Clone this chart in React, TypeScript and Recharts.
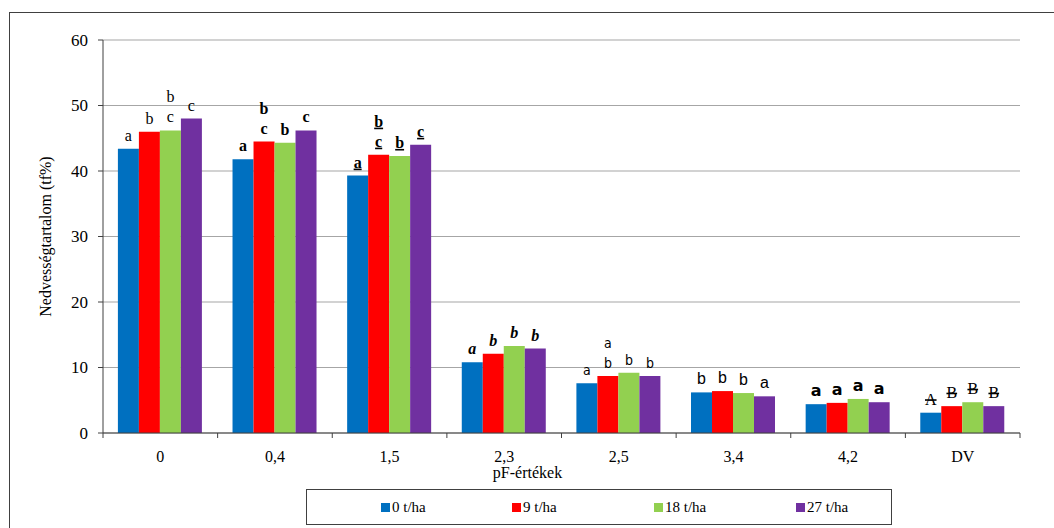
import React from "react";
import { BarChart, Bar, XAxis, YAxis, CartesianGrid, Legend, LabelList } from "recharts";

const categories = ["0", "0,4", "1,5", "2,3", "2,5", "3,4", "4,2", "DV"];
const series = ["0 t/ha", "9 t/ha", "18 t/ha", "27 t/ha"];
const t0 = [43.4, 41.8, 39.3, 10.8, 7.6, 6.2, 4.4, 3.1];
const t9 = [46.0, 44.5, 42.5, 12.1, 8.7, 6.4, 4.6, 4.1];
const t18 = [46.2, 44.3, 42.3, 13.3, 9.2, 6.1, 5.2, 4.7];
const t27 = [48.0, 46.2, 44.0, 12.9, 8.7, 5.6, 4.7, 4.1];

// letters above bars (lower line / upper line)
const lab0 = ["a", "a", "a", "a", "a", "b", "a", "A"];
const lab9 = ["b", "c", "c", "b", "b", "b", "a", "B"];
const lab18 = ["c", "b", "b", "b", "b", "b", "a", "B"];
const lab27 = ["c", "c", "c", "b", "b", "a", "a", "B"];
const up9 = ["", "b", "b", "", "a", "", "", ""];
const up18 = ["b", "", "", "", "", "", "", ""];

const yTicks = [0, 10, 20, 30, 40, 50, 60];
const COLORS = ["#0070C0", "#FF0000", "#92D050", "#7030A0"];

const SERIF = "Liberation Serif, Times New Roman, serif";
const SANS = "Liberation Sans, Arial, sans-serif";
const labelFonts: React.SVGProps<SVGTextElement>[] = [
  { fontFamily: SERIF },
  { fontFamily: SERIF, fontWeight: "bold" },
  { fontFamily: SERIF, fontWeight: "bold", textDecoration: "underline" },
  { fontFamily: SERIF, fontWeight: "bold", fontStyle: "italic" },
  { fontFamily: "Liberation Sans Narrow, DejaVu Sans Condensed, sans-serif", fontSize: 14 },
  { fontFamily: SANS },
  { fontFamily: "DejaVu Sans, sans-serif", fontWeight: "bold" },
  { fontFamily: SERIF, textDecoration: "line-through" },
];
const legendCols = [131, 142, 142, 90];

const data = categories.map((c, i) => ({ cat: c, s0: t0[i], s9: t9[i], s18: t18[i], s27: t27[i] }));

const makeLabel = (lower: string[], upper?: string[]) => (p: any) => {
  const i = p.index;
  const cx = p.x + p.width / 2;
  const st = { fontSize: 16, fill: "#000", textAnchor: "middle" as const, ...labelFonts[i] };
  return (
    <g>
      <text x={cx} y={p.y - 8} {...st}>{lower[i]}</text>
      {upper && upper[i] ? <text x={cx} y={p.y - 28} {...st}>{upper[i]}</text> : null}
    </g>
  );
};

const CatTick = (p: any) => {
  const off = p.payload?.offset ?? 57.3;
  return (
    <g>
      {p.index === 0 ? <line x1={p.x - off} x2={p.x - off} y1={p.y - 8} y2={p.y - 3} stroke="#404040" /> : null}
      <line x1={p.x + off} x2={p.x + off} y1={p.y - 8} y2={p.y - 3} stroke="#404040" />
      <text x={p.x} y={p.y + 21} textAnchor="middle" fontFamily={SERIF} fontSize={16} fill="#000">
        {p.payload.value}
      </text>
    </g>
  );
};

const ValTick = (p: any) => (
  <text x={p.x} y={p.y} textAnchor="end" dominantBaseline="central" fontFamily={SERIF} fontSize={17} fill="#000">
    {p.payload.value}
  </text>
);

const LegendBox = () => (
  <div style={{ width: 586, height: 36, border: "1.5px solid #404040", boxSizing: "border-box", display: "flex", alignItems: "center", paddingLeft: 74, fontFamily: SERIF, fontSize: 15, color: "#000", background: "#fff" }}>
    {series.map((s, i) => (
      <div key={s} style={{ display: "flex", alignItems: "center", width: legendCols[i], flex: "none" }}>
        <span style={{ width: 9, height: 9, background: COLORS[i], marginRight: 2, display: "inline-block" }} />
        <span>{s}</span>
      </div>
    ))}
  </div>
);

export default function App() {
  return (
    <div style={{ position: "absolute", left: 0, top: 0, width: 1054, height: 528, overflow: "hidden", background: "#fff" }}>
      <div style={{ position: "absolute", left: 9, top: 12, width: 1200, height: 700, border: "1.5px solid #404040" }} />
      <BarChart width={1054} height={528} data={data} margin={{ top: 40, right: 34, left: 33, bottom: 29 }} barCategoryGap="13%" barGap={0}>
        <CartesianGrid vertical={false} stroke="#A6A6A6" strokeWidth={1.2} />
        <XAxis dataKey="cat" height={30} tickLine={false} axisLine={{ stroke: "#404040" }} tick={<CatTick />} interval={0}
          label={{ content: (p: any) => (
            <text x={p.viewBox.x + p.viewBox.width / 2 - 34} y={p.viewBox.y + 45} textAnchor="middle" fontFamily={SERIF} fontSize={16} fill="#000">pF-értékek</text>
          ) }} />
        <YAxis width={70} domain={[0, 60]} ticks={yTicks} tickSize={5} tickMargin={10} axisLine={{ stroke: "#404040" }} tickLine={{ stroke: "#404040" }}
          tick={<ValTick />}
          label={{ content: (p: any) => {
            const x = p.viewBox.x + 12;
            const y = p.viewBox.y + p.viewBox.height / 2;
            return <text x={x} y={y} transform={`rotate(-90 ${x} ${y})`} textAnchor="middle" dominantBaseline="central" fontFamily={SERIF} fontSize={16} fill="#000">Nedvességtartalom (tf%)</text>;
          } }} />
        <Legend content={<LegendBox />} wrapperStyle={{ position: "absolute", left: 306, top: 489, width: 586 }} />
        <Bar dataKey="s0" name={series[0]} fill={COLORS[0]} isAnimationActive={false}>
          <LabelList dataKey="s0" content={makeLabel(lab0)} />
        </Bar>
        <Bar dataKey="s9" name={series[1]} fill={COLORS[1]} isAnimationActive={false}>
          <LabelList dataKey="s9" content={makeLabel(lab9, up9)} />
        </Bar>
        <Bar dataKey="s18" name={series[2]} fill={COLORS[2]} isAnimationActive={false}>
          <LabelList dataKey="s18" content={makeLabel(lab18, up18)} />
        </Bar>
        <Bar dataKey="s27" name={series[3]} fill={COLORS[3]} isAnimationActive={false}>
          <LabelList dataKey="s27" content={makeLabel(lab27)} />
        </Bar>
      </BarChart>
    </div>
  );
}
